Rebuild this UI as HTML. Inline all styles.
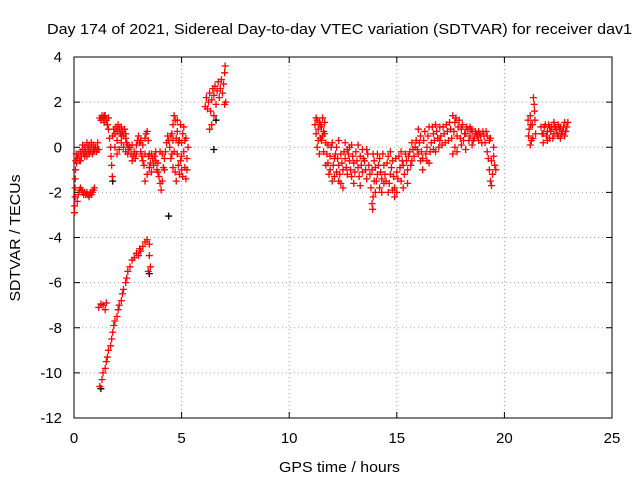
<!DOCTYPE html>
<html><head><meta charset="utf-8"><style>
body{margin:0;background:#fff;}
svg{display:block;font-family:"Liberation Sans",sans-serif;}
</style></head><body>
<svg id="chart" width="640" height="480" viewBox="0 0 640 480">
<rect x="0" y="0" width="640" height="480" fill="#fff"/>
<text x="339.5" y="34" font-size="15" text-anchor="middle" textLength="585" lengthAdjust="spacingAndGlyphs">Day 174 of 2021, Sidereal Day-to-day VTEC variation (SDTVAR) for receiver dav1</text>
<g id="grid"></g>
<g id="axes"></g>
<g id="points"></g>
<text x="339.5" y="472" font-size="15" text-anchor="middle" textLength="121" lengthAdjust="spacingAndGlyphs">GPS time / hours</text>
<text x="20" y="238" font-size="15" text-anchor="middle" textLength="127" lengthAdjust="spacingAndGlyphs" transform="rotate(-90 20 238)">SDTVAR / TECUs</text>
</svg>
<script>
const xTicks=[0,5,10,15,20,25];
const yTicks=[4,2,0,-2,-4,-6,-8,-10,-12];
const segStart=[[0.02,-2.9],[0.03,-2.6],[0.05,-2.2],[0.05,-1.8],[0.06,-1.4],[0.07,-1.0],[0.08,-0.6],[0.1,-0.3],[0.12,-0.7],
[0.15,-2.4],[0.2,-2.1],[0.25,-1.9],[0.3,-1.8],[0.35,-1.9],[0.4,-2.0],[0.45,-2.1],[0.5,-2.0],[0.55,-2.1],[0.6,-2.0],[0.65,-2.1],[0.7,-2.2],[0.75,-2.0],[0.8,-2.1],[0.85,-2.0],[0.9,-1.9],[0.95,-1.8],
[0.15,-0.5],[0.2,-0.3],[0.25,-0.6],[0.3,-0.2],[0.35,-0.4],[0.4,-0.1],[0.45,-0.3],[0.5,0.0],[0.55,-0.2],[0.6,-0.4],[0.65,-0.1],[0.7,0.1],[0.75,-0.2],[0.8,0.0],[0.85,-0.3],[0.9,0.1],[0.95,-0.1],[1.0,0.0],[1.05,-0.2],[1.1,0.2],[1.15,-0.1]];
const segSteep=[[1.2,-10.6],[1.3,-10.3],[1.35,-10.0],[1.45,-9.8],[1.5,-9.5],[1.55,-9.3],[1.6,-9.0],[1.7,-8.8],[1.75,-8.5],[1.8,-8.2],[1.85,-7.9],[1.9,-7.7],[2.0,-7.5],[2.05,-7.2],[2.1,-7.0],[2.2,-6.8],[2.25,-6.5],[2.3,-6.3],[2.4,-6.0],[2.45,-5.8],[2.5,-5.5],[2.6,-5.3],[2.7,-5.0],[2.8,-4.9],[2.9,-4.7],[3.0,-4.8],[3.05,-4.5],[3.1,-4.6],[3.2,-4.4],[3.3,-4.2],[3.4,-4.1],[3.5,-4.3],[3.5,-4.8],[3.55,-5.3],[3.45,-5.5],
[1.15,-7.1],[1.25,-6.95],[1.35,-7.0],[1.45,-7.2],[1.5,-6.9]];
const segMorning=[[1.2,1.3],[1.25,1.2],[1.3,1.4],[1.35,1.3],[1.4,1.1],[1.45,1.4],[1.5,1.2],[1.55,1.0],[1.6,0.8],[1.65,0.4],[1.7,0.0],[1.72,-0.4],[1.75,-0.8],[1.78,-1.3],
[1.8,0.5],[1.85,0.8],[1.9,0.6],[1.95,0.9],[2.0,0.7],[2.05,1.0],[2.1,0.8],[2.15,0.6],[2.2,0.9],[2.25,0.7],[2.3,0.5],[2.35,0.8],[2.4,0.4],[2.45,0.2],[2.5,0.1],[2.55,-0.1],[2.6,0.0],[1.9,0.0],[2.0,-0.3],[2.1,-0.1],[2.2,0.2],[2.3,0.0],[2.4,-0.2],[2.5,-0.3],
[2.65,-0.3],[2.7,-0.6],[2.75,-0.4],[2.8,-0.2],[2.85,-0.5],[2.9,0.1],[2.95,0.3],[3.0,0.5],[3.05,0.2],[3.1,-0.2],[3.15,-0.4],[3.2,-0.6],[3.25,-0.8],[3.3,0.4],[3.35,0.6],[3.4,0.7],[3.45,0.3],[3.5,-0.3],[3.55,-0.7],[3.6,-1.1],[3.3,-1.5],[3.4,-1.2],[3.5,-0.9],
[3.65,-0.5],[3.7,-0.8],[3.75,-0.4],[3.8,-0.6],[3.85,-1.0],[3.9,-0.7],[3.95,-1.3],[4.0,-1.6],[4.05,-1.9],[4.1,-1.5],[4.15,-0.9],[4.2,-0.5],[4.25,-0.2],[4.3,0.2],[4.35,0.5],[4.4,0.3],[4.1,-0.3],[4.0,-0.2],
[4.45,0.0],[4.5,-0.5],[4.55,0.6],[4.6,1.0],[4.65,1.4],[4.7,1.2],[4.75,0.4],[4.8,-0.3],[4.85,-0.8],[4.9,-1.2],[4.95,-0.6],[5.0,0.2],[5.05,0.6],[5.1,-0.2],[5.15,-0.9],[5.2,-1.4],[5.25,-0.5],[5.3,0.0],[4.6,-0.9],[4.7,-1.1],[4.8,0.7],[4.9,0.3],[5.0,-1.0],[5.1,0.9],[5.2,0.4],[4.75,-1.5],[4.55,-0.3],[5.05,-1.3],
[6.1,1.8],[6.15,2.2],[6.2,1.7],[6.25,2.0],[6.3,2.4],[6.35,1.6],[6.4,2.1],[6.45,2.6],[6.5,2.3],[6.55,2.7],[6.6,1.9],[6.65,2.5],[6.7,2.9],[6.75,2.2],[6.8,2.6],[6.85,3.0],[6.9,2.4],[6.95,2.8],[7.0,3.3],[7.05,2.0],[6.5,1.4],[6.4,1.0],[6.3,0.8],[7.0,1.9],[7.02,3.6]];
const segMorningExtra=[[0.3,-0.6],[0.5,-0.4],[0.7,-0.3],[0.9,-0.2],[1.1,-0.1],[0.4,0.1],[0.6,0.2],[0.8,0.2],[2.7,0.1],[2.9,-0.3],[3.1,0.3],[3.2,0.1],[3.6,-0.3],[3.8,-0.2],[3.9,-1.1],[4.2,-1.0],[4.5,0.5],[4.65,-0.2],[4.85,0.2],[4.95,1.0],[5.15,0.3],[5.25,-1.0],[4.6,0.3],[4.8,1.2],[5.0,-0.4],[2.2,0.5],[2.0,0.3],[2.4,0.6],[1.6,1.3],[1.4,1.4],[3.3,-0.3],[3.45,-0.4]];
const segAfternoon=[[11.2,1.0],[11.25,0.6],[11.3,1.2],[11.35,0.8],[11.4,1.1],[11.45,0.4],[11.5,0.9],[11.55,1.3],[11.6,0.7],[11.65,1.1],[11.7,0.2],[11.75,-0.3],[11.8,-0.7],[11.85,-1.2],[11.3,0.0],[11.4,-0.3],[11.5,0.3],
[11.9,-0.4],[12.0,0.2],[12.1,-0.5],[12.2,0.0],[12.3,-0.8],[12.4,-0.3],[12.5,-1.0],[12.6,-0.5],[12.7,-1.2],[12.8,-0.6],[12.9,-1.3],[13.0,-0.7],[13.1,-0.2],[13.2,-0.9],[13.3,-0.4],[13.4,-1.1],[13.5,-0.6],[13.6,-1.4],[13.7,-0.8],[12.0,-1.5],[12.2,-1.1],[12.4,-1.6],[12.6,0.2],[12.8,0.0],[13.0,-1.6],[13.2,0.1],[13.4,-0.1],[12.3,0.3],[12.9,0.1],
[13.8,-1.8],[13.85,-2.5],[13.9,-2.2],[13.95,-1.5],[14.0,-0.9],[14.1,-1.2],[14.2,-0.5],[14.3,-1.4],[14.4,-0.8],[13.9,-0.3],[14.0,-2.0],[14.2,-1.8],[14.4,-1.6],[13.88,-2.75],
[14.5,-1.5],[14.6,-2.0],[14.7,-1.2],[14.8,-0.6],[14.9,-1.8],[15.0,-1.1],[15.1,-0.4],[15.2,-1.5],[15.3,-0.8],[15.4,-0.3],[15.5,-1.0],[15.6,-0.2],[15.7,0.2],[15.8,-0.4],[15.0,-2.0],[15.2,-0.2],[14.7,-0.2],[15.5,-1.6]];
const segAfternoonExtra=[[11.25,1.3],[11.35,0.3],[11.45,1.0],[11.55,0.5],[11.65,0.6],[11.6,-0.2],[11.7,-0.8],[11.8,0.1],[11.95,0.0],[12.05,-0.8],[12.15,-0.3],[12.25,-0.5],[12.35,-1.2],[12.45,-0.7],[12.55,-0.2],[12.65,-0.9],[12.75,-0.3],[12.85,-1.0],[12.95,-0.4],[13.05,-1.1],[13.15,-0.6],[13.25,-1.3],[13.35,-0.8],[13.45,-0.5],[13.55,-1.0],[13.65,-0.3],[13.75,-1.2],[13.6,-0.1],[13.3,-1.7],[12.1,-1.3],[12.5,-1.8],[12.7,-0.1],[11.9,-1.0],[12.3,-1.5],
[13.85,-1.0],[13.95,-0.6],[14.05,-1.5],[14.15,-0.8],[14.25,-1.1],[14.35,-0.3],[14.45,-1.2],[14.55,-0.7],[14.65,-1.6],[14.75,-0.9],[14.85,-1.3],[14.95,-0.5],[15.05,-1.4],[15.15,-0.9],[15.25,-0.6],[15.35,-1.2],[15.45,-0.6],[15.55,-0.4],[15.65,-0.8],[15.75,-0.1],[14.3,-2.0],[14.9,-2.2],[14.1,-0.3],[14.6,-0.4],[15.3,-1.8],[14.8,-1.9],[15.7,-0.6],[15.85,0.0]];
const segEvening=[[15.9,0.3],[16.0,-0.3],[16.1,0.5],[16.2,-0.5],[16.3,0.7],[16.4,0.0],[16.5,0.9],[16.6,0.2],[16.7,0.6],[16.8,-0.2],[16.9,0.4],[17.0,0.9],[17.1,0.1],[17.2,0.6],[17.3,1.0],[17.4,0.3],[17.5,0.8],[16.2,-1.0],[16.5,-0.7],[16.0,0.8],[16.8,1.0],
[17.6,1.4],[17.7,1.1],[17.8,0.5],[17.9,1.2],[18.0,0.8],[18.1,0.3],[18.2,0.6],[18.3,0.8],[18.4,0.5],[18.5,0.7],[18.6,0.4],[18.7,0.6],[18.8,0.3],[18.9,0.5],[19.0,0.7],[18.2,-0.1],[18.5,0.1],[17.7,0.0],[17.6,-0.3],
[19.1,0.2],[19.2,0.5],[19.25,-0.5],[19.3,-1.0],[19.35,-1.5],[19.4,-0.6],[19.45,-1.2],[19.5,0.0],[19.55,-0.8],
[21.1,1.2],[21.15,0.8],[21.2,1.4],[21.25,0.3],[21.3,1.0],[21.35,2.2],[21.4,1.6],[21.45,0.6],[21.2,0.1],
[21.7,0.9],[21.8,0.6],[21.9,1.0],[22.0,0.7],[22.1,0.4],[22.2,0.9],[22.3,0.6],[22.4,0.8],[22.5,0.5],[22.6,0.9],[22.7,0.7],[22.8,1.1],[22.9,0.9],[21.8,0.2],[22.0,0.3],[22.3,1.1],[22.6,0.4]];
const segEveningExtra=[[15.95,-0.1],[16.05,0.2],[16.15,-0.2],[16.25,0.3],[16.35,-0.3],[16.45,0.5],[16.55,-0.2],[16.65,0.9],[16.75,0.3],[16.85,0.7],[16.95,0.0],[17.05,0.5],[17.15,0.9],[17.25,0.2],[17.35,0.7],[17.45,1.1],[17.55,0.4],[16.4,-0.6],[16.1,-0.6],[16.7,-0.1],[17.0,0.3],
[17.65,0.7],[17.75,1.3],[17.85,0.9],[17.95,0.4],[18.05,1.0],[18.15,0.6],[18.25,0.9],[18.35,0.3],[18.45,0.8],[18.55,0.3],[18.65,0.7],[18.75,0.5],[18.85,0.6],[18.95,0.2],[19.05,0.5],[19.15,0.7],[18.0,0.1],[18.4,0.9],[18.8,0.7],[17.8,-0.2],
[19.2,-0.2],[19.3,0.3],[19.4,-1.7],[19.5,-0.4],[19.6,-1.0],[19.35,0.4],
[21.12,0.5],[21.22,1.0],[21.32,0.4],[21.42,1.2],[21.38,1.9],
[21.75,0.6],[21.85,0.9],[21.95,0.5],[22.05,1.0],[22.15,0.7],[22.25,0.4],[22.35,0.9],[22.45,0.6],[22.55,0.8],[22.65,0.6],[22.75,0.9],[22.85,0.7],[22.95,1.1],[22.1,0.9],[22.5,1.0],[22.8,0.5]];
const blackPoints=[[4.4,-3.05],[6.5,-0.1],[3.5,-5.6],[1.25,-10.7],[1.8,-1.5],[6.6,1.2]];

const NS="http://www.w3.org/2000/svg";
const X0=74,X1=612,Y0=57,Y1=418;
function xs(v){return X0+(v-0)/(25-0)*(X1-X0);}
function ys(v){return Y0+(4-v)/(4-(-12))*(Y1-Y0);}
function mk(tag,attrs,parent){const e=document.createElementNS(NS,tag);for(const k in attrs)e.setAttribute(k,attrs[k]);parent.appendChild(e);return e;}
const grid=document.getElementById('grid'),axes=document.getElementById('axes'),pts=document.getElementById('points');
xTicks.forEach(t=>{
  const x=xs(t);
  if(t>0&&t<25){const g=mk('line',{x1:x,y1:Y0,x2:x,y2:Y1,stroke:'#a0a0a0','stroke-dasharray':'1,3'},grid);
  
  }
  mk('line',{x1:x,y1:Y1,x2:x,y2:Y1-6,stroke:'#000'},axes);
  mk('line',{x1:x,y1:Y0,x2:x,y2:Y0+6,stroke:'#000'},axes);
  const l=mk('text',{x:x,y:Y1+25,'font-size':15,'text-anchor':'middle'},axes);l.textContent=t;
  
  
});
yTicks.forEach(t=>{
  const y=ys(t);
  if(t<4&&t>-12){const g=mk('line',{x1:X0,y1:y,x2:X1,y2:y,stroke:'#a0a0a0','stroke-dasharray':'1,3'},grid);
  
  }
  mk('line',{x1:X0,y1:y,x2:X0+6,y2:y,stroke:'#000'},axes);
  mk('line',{x1:X1,y1:y,x2:X1-6,y2:y,stroke:'#000'},axes);
  const l=mk('text',{x:X0-12,y:y+5,'font-size':15,'text-anchor':'end'},axes);l.textContent=t;
  
  
});
mk('rect',{x:X0,y:Y0,width:X1-X0,height:Y1-Y0,fill:'none',stroke:'#000'},axes);
function plus(p,color){
  const x=xs(p[0]),y=ys(p[1]);
  const e=mk('path',{d:`M${x-3.5},${y}H${x+3.5}M${x},${y-3.5}V${y+3.5}`,stroke:color,'stroke-width':1.3,fill:'none'},pts);
  
  
}
blackPoints.forEach(p=>plus(p,'#000'));
[segStart,segSteep,segMorning,segMorningExtra,segAfternoon,segAfternoonExtra,segEvening,segEveningExtra].forEach(s=>s.forEach(p=>plus(p,'#ff0000')));
</script>
</body></html>
